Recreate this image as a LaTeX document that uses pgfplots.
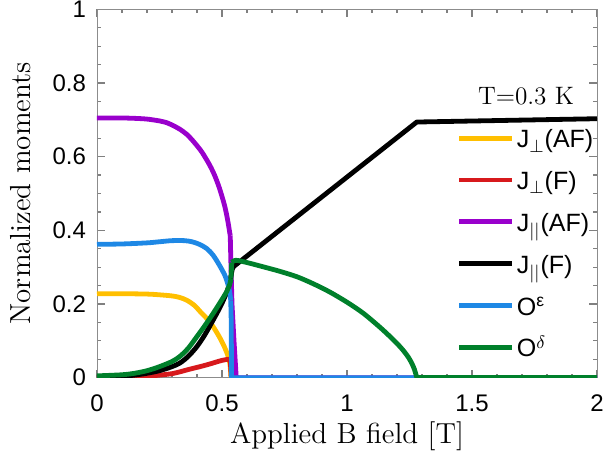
\documentclass[border=0pt]{standalone}
\usepackage{fontspec}
\usepackage{pgfplots}
\pgfplotsset{compat=1.18}
\usetikzlibrary{calc}
\newfontfamily\arial{Liberation Sans}
\definecolor{cY}{RGB}{255,191,0}
\definecolor{cR}{RGB}{215,25,28}
\definecolor{cP}{RGB}{153,0,204}
\definecolor{cB}{RGB}{30,136,229}
\definecolor{cG}{RGB}{0,128,43}
\begin{document}
\begin{tikzpicture}
\begin{axis}[
  width=250pt, height=184.2pt, scale only axis,
  xmin=0, xmax=2, ymin=0, ymax=1,
  xtick={0,0.5,1,1.5,2}, ytick={0,0.2,0.4,0.6,0.8,1},
  minor x tick num=4, minor y tick num=3,
  axis line style={gray!90}, tick style={gray, line width=0.6pt},
  major tick length=4pt, minor tick length=2pt,
  /pgf/number format/assume math mode=true,
  ticklabel style={font=\arial\fontsize{12}{14}\selectfont},
  xticklabel style={yshift=-5pt},
  yticklabel style={xshift=-2pt},
  xlabel={Applied B field [T]},
  ylabel={Normalized moments},
  label style={font=\fontsize{14.5}{17}\selectfont},
  xlabel style={at={(axis description cs:0.5,-0.16)}, anchor=center},
  ylabel style={at={(axis description cs:-0.152,0.5)}, anchor=center},
  every axis plot/.append style={line width=2.4pt, line join=round},
  legend image code/.code={\draw[#1] (0pt,4.3pt) -- (26.5pt,4.3pt);},
  legend cell align=left,
  legend style={draw=none, fill=none, inner sep=0pt, outer sep=0pt,
    at={(axis cs:1.44,0.6835)}, anchor=north west,
    column sep=0.5pt, row sep=0pt,
    font=\arial\fontsize{12.5}{14}\selectfont,
    nodes={inner sep=0.5pt, text height=10.5pt, text depth=9.4pt}},
]
% J_perp (AF)
\addplot[cY, smooth, tension=0.5] coordinates {(0,0.228)(0.1,0.228)(0.2,0.227)(0.25,0.225)(0.3,0.222)(0.33,0.218)(0.36,0.21)(0.39,0.196)(0.412,0.18)(0.44,0.16)(0.465,0.138)(0.49,0.11)(0.51,0.083)(0.525,0.057)(0.532,0.035)(0.536,0)};
\addlegendentry{J$_\perp$(AF)}
% J_perp (F)
\addplot[cR, smooth, tension=0.5] coordinates {(0,0)(0.1,0.001)(0.2,0.004)(0.25,0.007)(0.3,0.011)(0.332,0.016)(0.37,0.023)(0.412,0.03)(0.45,0.037)(0.479,0.043)(0.5,0.047)(0.525,0.05)(0.533,0.049)};
\addlegendentry{J$_\perp$(F)}
\addplot[cR, forget plot] coordinates {(0.533,0.049)(0.537,0)};
% J_par (AF)
\addplot[cP, smooth, tension=0.5] coordinates {(0,0.705)(0.05,0.705)(0.1,0.705)(0.15,0.704)(0.2,0.702)(0.25,0.697)(0.28,0.692)(0.3,0.686)(0.33,0.675)(0.36,0.66)(0.39,0.638)(0.42,0.612)(0.45,0.578)(0.47,0.55)(0.49,0.514)(0.51,0.468)(0.522,0.43)(0.533,0.385)};
\addlegendentry{J$_{||}$(AF)}
\addplot[cP, forget plot] coordinates {(0.533,0.385)(0.536,0.3)(0.54,0.2)(0.548,0.1)(0.557,0)(2,0)};
% J_par (F)
\addplot[black, smooth, tension=0.5] coordinates {(0,0.002)(0.1,0.004)(0.15,0.007)(0.2,0.012)(0.25,0.019)(0.3,0.03)(0.332,0.04)(0.365,0.058)(0.399,0.084)(0.43,0.115)(0.465,0.157)(0.495,0.195)(0.519,0.232)(0.532,0.262)(0.541,0.294)(0.547,0.302)};
\addlegendentry{J$_{||}$(F)}
\addplot[black, forget plot] coordinates {(0.547,0.302)(1.279,0.694)(2,0.703)};
% O epsilon
\addplot[cB, smooth, tension=0.5] coordinates {(0,0.362)(0.1,0.363)(0.2,0.366)(0.25,0.369)(0.3,0.372)(0.35,0.372)(0.38,0.369)(0.41,0.362)(0.44,0.35)(0.465,0.332)(0.49,0.305)(0.51,0.28)(0.52,0.262)(0.53,0.235)(0.535,0.21)};
\addlegendentry{O\textsuperscript{ε}}
\addplot[cB, forget plot] coordinates {(0.535,0.21)(0.537,0.15)(0.538,0)(2,0)};
% O delta
\addplot[cG, smooth, tension=0.5] coordinates {(0,0.005)(0.1,0.008)(0.15,0.012)(0.2,0.019)(0.25,0.03)(0.3,0.044)(0.332,0.058)(0.365,0.08)(0.399,0.111)(0.43,0.14)(0.465,0.175)(0.495,0.207)(0.519,0.234)(0.532,0.256)(0.536,0.27)};
\addlegendentry{O$^\delta$}
\addplot[cG, forget plot] coordinates {(0.536,0.27)(0.539,0.313)};
\addplot[cG, smooth, tension=0.5, forget plot] coordinates {(0.539,0.313)(0.55,0.318)(0.565,0.318)(0.615,0.31)(0.665,0.301)(0.73,0.289)(0.8,0.274)(0.865,0.255)(0.93,0.233)(1.0,0.205)(1.065,0.175)(1.13,0.138)(1.17,0.113)(1.2,0.093)(1.225,0.074)(1.245,0.056)(1.26,0.038)(1.27,0.022)(1.276,0.008)(1.28,0)};
\addplot[cG, forget plot] coordinates {(1.28,0)(2,0)};
\node[font=\fontsize{12.6}{15}\selectfont] at (axis cs:1.716,0.765) {T=0.3 K};
\end{axis}
\pgfresetboundingbox
\path[use as bounding box] ($(current axis.south west)+(-48.5pt,-44.15pt)$) rectangle ($(current axis.north east)+(3pt,4.65pt)$);
\end{tikzpicture}
\end{document}
